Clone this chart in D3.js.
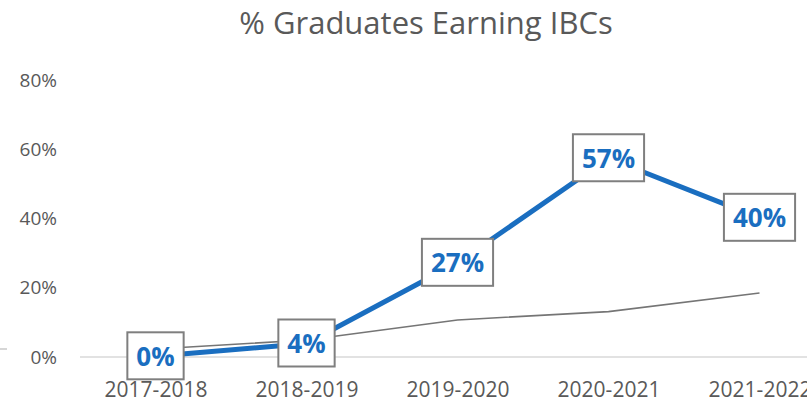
<!DOCTYPE html>
<html>
<head>
<meta charset="utf-8">
<script src="https://cdn.jsdelivr.net/npm/d3@7"></script>
<style>
  body { margin: 0; background: #fff; }
  svg { display: block; font-family: "Open Sans", sans-serif; }
</style>
</head>
<body>
<script>
var years = ["2017-2018", "2018-2019", "2019-2020", "2020-2021", "2021-2022"];
var ibcPct = [0.2, 3.9, 27.2, 57.4, 40.2];      // blue series, labelled
var comparePct = [2.3, 4.9, 10.7, 13.1, 18.5];  // thin gray series
var yTicks = [0, 20, 40, 60, 80];

var margin = {top: 80, right: 0, bottom: 45, left: 80},
    width = 807, height = 402;

var svg = d3.select("body")
  .append("svg")
    .attr("width", width)
    .attr("height", height);

var x = d3.scalePoint()
  .domain(years)
  .range([margin.left, margin.left + 5 * 151])
  .padding(0.5);

var y = d3.scaleLinear()
  .domain([0, 80])
  .range([height - margin.bottom, margin.top]);

// title
svg.append("text")
  .attr("x", 426)
  .attr("y", 34)
  .attr("text-anchor", "middle")
  .style("font-size", "31px")
  .style("fill", "#595959")
  .text("% Graduates Earning IBCs");

// y axis labels (no axis line)
var yAxis = d3.axisLeft(y)
  .tickValues(yTicks)
  .tickFormat(function(d) { return d + "%"; })
  .tickSize(0)
  .tickPadding(0);

var gy = svg.append("g")
  .attr("transform", "translate(57,0)")
  .call(yAxis);
gy.select(".domain").remove();
gy.selectAll("text")
  .style("font-size", "19px")
  .style("font-family", "Open Sans, sans-serif")
  .style("fill", "#595959");

// x axis
var xAxis = d3.axisBottom(x).tickSize(0).tickPadding(25);
var gx = svg.append("g")
  .attr("transform", "translate(0," + y(0) + ")")
  .call(xAxis);
gx.select(".domain").remove();
gx.selectAll("text")
  .style("font-size", "21px")
  .style("font-family", "Open Sans, sans-serif")
  .style("fill", "#595959");

svg.append("line")
  .attr("x1", margin.left).attr("x2", width)
  .attr("y1", y(0)).attr("y2", y(0))
  .style("stroke", "#d9d9d9")
  .style("stroke-width", 1.5);

// stray fragment on the left edge
svg.append("line")
  .attr("x1", 0).attr("x2", 7)
  .attr("y1", y(0) - 8).attr("y2", y(0) - 8)
  .style("stroke", "#c8c8c8")
  .style("stroke-width", 1.5);

var line = d3.line()
  .x(function(d, i) { return x(years[i]); })
  .y(function(d) { return y(d); });

svg.append("path")
  .datum(comparePct)
  .attr("d", line)
  .style("fill", "none")
  .style("stroke", "#757575")
  .style("stroke-width", 1.6);

svg.append("path")
  .datum(ibcPct)
  .attr("d", line)
  .style("fill", "none")
  .style("stroke", "#1a6ec0")
  .style("stroke-width", 5)
  .style("stroke-linejoin", "round");

// data labels in boxes
var lbl = svg.selectAll(".lbl")
  .data(ibcPct)
  .enter()
  .append("g")
  .attr("class", "lbl")
  .attr("transform", function(d, i) { return "translate(" + x(years[i]) + "," + y(d) + ")"; });

lbl.append("rect").style("fill", "#fff").style("stroke", "#7f7f7f").style("stroke-width", 2);

lbl.append("text")
  .attr("text-anchor", "middle")
  .attr("dy", "0.36em")
  .style("font-size", "26px")
  .style("font-weight", "bold")
  .style("fill", "#1a6ec0")
  .text(function(d) { return Math.round(d) + "%"; });

lbl.each(function() {
  var t = d3.select(this).select("text").node().getBBox();
  var w = t.width + 18;
  d3.select(this).select("rect")
    .attr("x", -w / 2).attr("y", -24)
    .attr("width", w).attr("height", 47);
});
</script>
</body>
</html>
